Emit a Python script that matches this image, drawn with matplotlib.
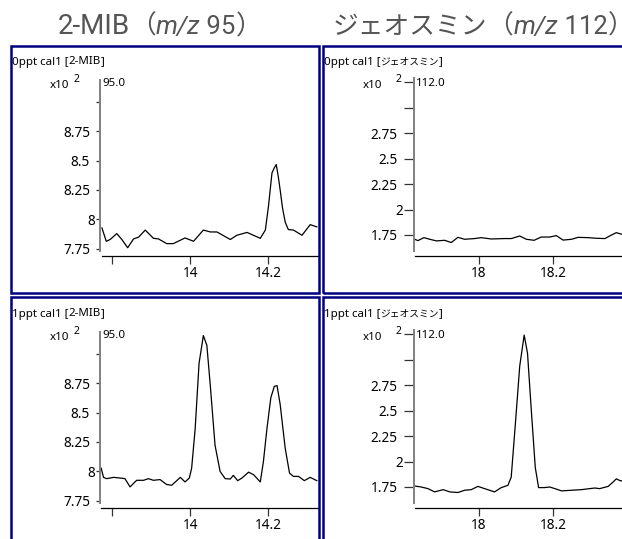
import matplotlib
matplotlib.use("Agg")
import matplotlib.pyplot as plt
from matplotlib.patches import Rectangle
from matplotlib.transforms import blended_transform_factory, ScaledTranslation

# 2-MIB (m/z 95) 0ppt cal1, intensity x10^2
mib0_rt = [13.773, 13.784, 13.794, 13.811, 13.824, 13.839, 13.854, 13.867, 13.884,
           13.905, 13.918, 13.939, 13.956, 13.986, 14.008, 14.033, 14.051, 14.068,
           14.102, 14.119, 14.145, 14.179, 14.192, 14.200, 14.209, 14.215, 14.220,
           14.225, 14.230, 14.236, 14.243, 14.251, 14.264, 14.286, 14.307, 14.324]
mib0_int = [7.928, 7.815, 7.83, 7.88, 7.83, 7.76, 7.835, 7.85, 7.91,
            7.84, 7.835, 7.795, 7.795, 7.843, 7.815, 7.91, 7.894, 7.894,
            7.83, 7.866, 7.89, 7.84, 7.91, 8.112, 8.395, 8.438, 8.466,
            8.367, 8.25, 8.098, 7.976, 7.914, 7.91, 7.866, 7.956, 7.937]

# 2-MIB (m/z 95) 1ppt cal1
mib1_rt = [13.771, 13.777, 13.785, 13.803, 13.820, 13.832, 13.845, 13.862, 13.880,
           13.892, 13.905, 13.922, 13.939, 13.952, 13.974, 13.986, 13.997, 14.003,
           14.012, 14.022, 14.033, 14.042, 14.051, 14.063, 14.076, 14.089, 14.102,
           14.110, 14.121, 14.132, 14.149, 14.162, 14.179, 14.187, 14.196, 14.206,
           14.215, 14.222, 14.230, 14.243, 14.254, 14.264, 14.277, 14.292, 14.307,
           14.324]
mib1_int = [8.028, 7.95, 7.939, 7.95, 7.944, 7.939, 7.869, 7.925, 7.925,
            7.939, 7.925, 7.931, 7.889, 7.883, 7.95, 7.911, 7.944, 8.028,
            8.361, 8.917, 9.153, 9.07, 8.722, 8.222, 8.0, 7.939, 7.936,
            7.967, 7.922, 7.944, 7.994, 7.972, 7.911, 8.083, 8.361, 8.625,
            8.722, 8.728, 8.569, 8.194, 7.986, 7.958, 7.958, 7.922, 7.95,
            7.922]

# geosmin (m/z 112) 0ppt cal1
geo0_rt = [17.826, 17.835, 17.851, 17.867, 17.885, 17.907, 17.925, 17.943, 17.961,
           17.988, 18.006, 18.033, 18.069, 18.087, 18.110, 18.128, 18.149, 18.168,
           18.191, 18.209, 18.227, 18.250, 18.268, 18.295, 18.317, 18.340, 18.358,
           18.371, 18.387, 18.40]
geo0_int = [1.708, 1.695, 1.724, 1.708, 1.692, 1.698, 1.676, 1.727, 1.708,
            1.715, 1.724, 1.711, 1.715, 1.715, 1.74, 1.708, 1.698, 1.73,
            1.73, 1.744, 1.70, 1.708, 1.727, 1.724, 1.718, 1.715, 1.75,
            1.773, 1.756, 1.74]

# geosmin (m/z 112) 1ppt cal1
geo1_rt = [17.826, 17.844, 17.862, 17.880, 17.903, 17.921, 17.943, 17.961, 17.979,
           17.997, 18.015, 18.042, 18.060, 18.078, 18.087, 18.098, 18.110, 18.122,
           18.131, 18.141, 18.152, 18.161, 18.177, 18.191, 18.205, 18.223, 18.250,
           18.277, 18.299, 18.313, 18.326, 18.349, 18.362, 18.371, 18.380, 18.387,
           18.40]
geo1_int = [1.76, 1.75, 1.734, 1.702, 1.724, 1.702, 1.696, 1.718, 1.724,
            1.756, 1.734, 1.702, 1.744, 1.766, 1.846, 2.359, 2.936, 3.24,
            3.064, 2.519, 1.942, 1.744, 1.744, 1.75, 1.734, 1.712, 1.718,
            1.724, 1.734, 1.74, 1.734, 1.756, 1.798, 1.83, 1.814, 1.808,
            1.80]

mib_yticks = [7.75, 8.0, 8.25, 8.5, 8.75, 9.0]
mib_ylabels = ["7.75", "8", "8.25", "8.5", "8.75", ""]
mib_xticks = [13.8, 14.0, 14.2]
mib_xlabels = ["", "14", "14.2"]
geo_yticks = [1.75, 2.0, 2.25, 2.5, 2.75, 3.0, 3.25]
geo_ylabels = ["1.75", "2", "2.25", "2.5", "2.75", "", ""]
geo_xticks = [18.0, 18.2]
geo_xlabels = ["18", "18.2"]

title_parts = [[("2-MIB", "normal", 20), ("（", "normal", 18.5), ("m/z", "italic", 18.5),
                (" 95", "normal", 18.5), ("）", "normal", 19)],
               [("ジェオスミン", "normal", 18.5), ("（", "normal", 18.5),
                ("m/z", "italic", 18.5), (" 112", "normal", 18.5), ("）", "normal", 18.5)]]
samples = ["0ppt cal1", "1ppt cal1"]
compounds = ["2-MIB", "ジェオスミン"]
ions = ["95.0", "112.0"]

W, H = 622, 539
fig = plt.figure(figsize=(W / 100, H / 100), dpi=100)
fig.patch.set_facecolor("white")

JP = ["Noto Sans", "Noto Sans CJK JP"]
TF = ["Roboto", "Noto Sans CJK JP"]
r = fig.canvas.get_renderer()


def fx(x):
    return x / W


def fy(y):
    return 1 - y / H


def ftext(x, y, s, **kw):
    return fig.text(fx(x), fy(y), s, **kw)


def run_text(x, y, parts, **kw):
    # draw text pieces one after another, returns end x in pixels
    for s, st, size in parts:
        t = ftext(x, y, s, style=st, fontsize=size, ha="left", **kw)
        x += t.get_window_extent(renderer=r).width
    return x


# titles
for parts, x0 in zip(title_parts, [58, 333]):
    run_text(x0, 34, parts, family=TF, color="#555555", va="baseline")

# panel borders
for (x0, y0, x1, y1) in [(11, 46, 319, 293), (323, 46, 700, 293),
                         (11, 297, 319, 600), (323, 297, 700, 600)]:
    fig.add_artist(Rectangle((fx(x0), fy(y1)), fx(x1 - x0), (y1 - y0) / H,
                             transform=fig.transFigure, fill=False,
                             edgecolor="#000080", lw=1.8))

series = [[(mib0_rt, mib0_int), (geo0_rt, geo0_int)],
          [(mib1_rt, mib1_int), (geo1_rt, geo1_int)]]

for row in range(2):
    dy = row * 252
    for col in range(2):
        rt, val = series[row][col]
        if col == 0:
            left, right = 100, 318
            xlim = (13.768, 14.327)
            ylim = (7.69, 9.20)
            ybounds = (7.735, 9.183)
            yt, yl, xt, xl = mib_yticks, mib_ylabels, mib_xticks, mib_xlabels
            lx, tlen, sup_dx = 12, 4, -26
        else:
            left, right = 413.7, 640
            xlim = (17.8235, 18.435)
            ylim = (1.544, 3.29)
            ybounds = (1.596, 3.29)
            yt, yl, xt, xl = geo_yticks, geo_ylabels, geo_xticks, geo_xlabels
            lx, tlen, sup_dx = 324, 10, -18.5
        top, bottom = 78 + dy, 256 + dy
        ax = fig.add_axes([fx(left), fy(bottom), (right - left) / W, (bottom - top) / H])
        ax.patch.set_alpha(0)
        ax.plot(rt, val, color="black", lw=0.9)
        ax.set_xlim(*xlim)
        ax.set_ylim(*ylim)
        for s in ["top", "right"]:
            ax.spines[s].set_visible(False)
        ax.spines["left"].set_color("#808080")
        ax.spines["left"].set_linewidth(1.4)
        ax.spines["left"].set_bounds(*ybounds)
        ax.spines["bottom"].set_color("black")
        ax.spines["bottom"].set_linewidth(0.9)
        ax.spines["bottom"].set_bounds(rt[0], xlim[1])
        ax.set_yticks(yt)
        ax.set_yticklabels([])
        ax.set_xticks(xt)
        ax.set_xticklabels(xl, family=JP, fontsize=9.8)
        ax.tick_params(axis="y", length=tlen * 0.72, width=0.9, color="#333333")
        ax.tick_params(axis="x", length=6.0, width=0.9, color="#333333", pad=1.5)

        # y labels: single digit labels sit against the tick, longer ones further left
        bt = blended_transform_factory(ax.transAxes, ax.transData)
        for v, s in zip(yt, yl):
            off = tlen + (0.7 if len(s) == 1 else 6.0)
            ax.text(0, v, s, family=JP, fontsize=9.8, ha="right", va="center_baseline",
                    transform=bt + ScaledTranslation(-off / 100, 0, fig.dpi_scale_trans))

        x_end = run_text(lx, 62 + dy, [(samples[row] + " [", "normal", 8.3)],
                         family=JP, va="center")
        if col == 0:
            x_end = run_text(x_end, 62 + dy, [(compounds[col], "normal", 8.3)],
                             family=JP, va="center")
        else:
            x_end = run_text(x_end, 62 + dy, [(compounds[col], "normal", 7.0)],
                             family=JP, va="center")
        run_text(x_end, 62 + dy, [("]", "normal", 8.3)], family=JP, va="center")

        ftext(left - 31, 86 + dy, "x10", family=JP, fontsize=8.3, va="center", ha="right")
        ftext(left + sup_dx, 79 + dy, "2", family=JP, fontsize=7.5, va="center")
        ftext(left + 2, 83 + dy, ions[col], family=JP, fontsize=8.3, va="center")

fig.savefig("out.png", dpi=100, facecolor="white")
